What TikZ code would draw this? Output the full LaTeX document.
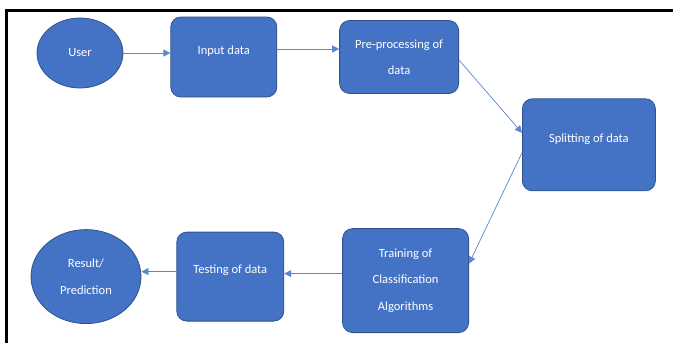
\documentclass[tikz,border=0pt]{standalone}
\usepackage{fontspec}
\setmainfont{Carlito}
\usepackage{tikz}
\usetikzlibrary{arrows.meta, positioning, shapes}

\definecolor{boxblue}{HTML}{4472C4}
\definecolor{edgeblue}{HTML}{2F528F}
\definecolor{arrowblue}{HTML}{5B86D0}

\begin{document}
\begin{tikzpicture}[x=1pt, y=1pt,
  procstep/.style={draw=edgeblue, line width=0.8pt, fill=boxblue, rounded corners=10pt, text=white, align=center, font=\fontsize{12.5}{26.5}\selectfont},
  terminal/.style={ellipse, draw=edgeblue, line width=0.8pt, fill=boxblue, text=white, align=center, inner sep=0pt, font=\fontsize{12.5}{26.5}\selectfont},
  raised/.style={text depth=14pt},
  arrow/.style={-{Triangle[length=7pt, width=7pt]}, draw=arrowblue, line width=0.7pt},
  frame/.style={line width=3pt, black}
]
\useasboundingbox (0,0) rectangle (673,-343);
\draw[frame] (5,-10.5) -- (673,-10.5);
\draw[frame] (6.5,-9) -- (6.5,-343);

\node[terminal, minimum width=86pt, minimum height=70pt] (user) at (80,-53) {User};
\node[procstep, raised, minimum width=106pt, minimum height=80pt, right=47pt of user, yshift=-4pt] (input) {Input data};
\node[procstep, minimum width=119pt, minimum height=73pt, right=62pt of input] (prep) {Pre-processing of\\data};
\node[procstep, raised, minimum width=133pt, minimum height=92pt, below right=4.5pt and 63pt of prep] (split) {Splitting of data};
\node[procstep, minimum width=126pt, minimum height=104pt, below left=37pt and 53pt of split] (train) {Training of\\Classification\\Algorithms};
\node[procstep, raised, minimum width=107pt, minimum height=89pt, left=58pt of train, yshift=4pt] (test) {Testing of data};
\node[terminal, minimum width=110pt, minimum height=94pt, left=35pt of test] (result) {Result/\\Prediction};

\draw[arrow] (user.east) -- (input.west |- user.east);
\draw[arrow] ([yshift=8pt]input.east) -- ([yshift=8pt]prep.west);
\draw[arrow] ([yshift=-3pt]prep.east) -- ([yshift=12pt]split.west);
\draw[arrow] ([yshift=-8pt]split.west) -- ([yshift=17pt]train.east);
\draw[arrow] ([yshift=7pt]train.west) -- ([yshift=3pt]test.east);
\draw[arrow] ([yshift=5pt]test.west) -- ([yshift=5pt]result.east);
\end{tikzpicture}
\end{document}
